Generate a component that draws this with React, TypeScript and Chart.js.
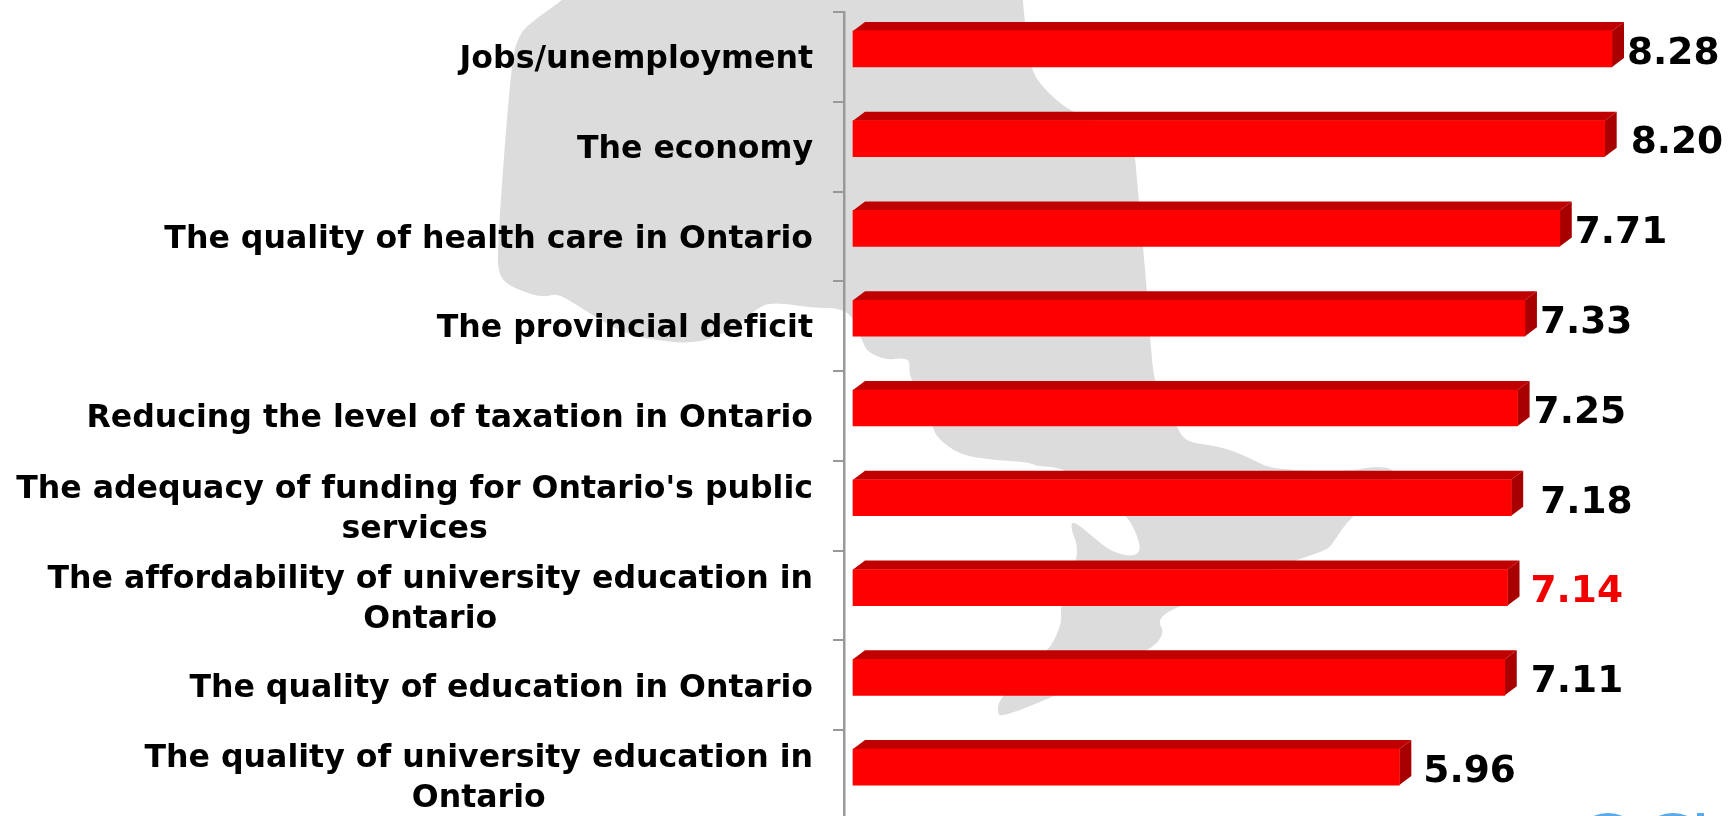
import React, { useEffect, useRef } from "react";
import { Chart, registerables } from "chart.js";

Chart.register(...registerables);

const categories: string[][] = [
  ["Jobs/unemployment"],
  ["The economy"],
  ["The quality of health care in Ontario"],
  ["The provincial deficit"],
  ["Reducing the level of taxation in Ontario"],
  ["The adequacy of funding for Ontario's public", "services"],
  ["The affordability of university education in", "Ontario"],
  ["The quality of education in Ontario"],
  ["The quality of university education in", "Ontario"],
];
const values = [8.28, 8.2, 7.71, 7.33, 7.25, 7.18, 7.14, 7.11, 5.96];
const valueLabels = ["8.28", "8.20", "7.71", "7.33", "7.25", "7.18", "7.14", "7.11", "5.96"];
const valueLabelColors = ["#000", "#000", "#000", "#000", "#000", "#000", "#f00000", "#000", "#000"];
const valueLabelGaps = [3, 14, 3, 3, 4, 17, 11, 14, 12];

const FONT = '"DejaVu Sans", Verdana, sans-serif';
const LABEL_SIZE = 31.6;
const VALUE_SIZE = 37.5;
const DEPTH_X = 12;
const DEPTH_Y = 9;
const BAR_SHIFT = -8;

// Decorative backdrop: outline of Ontario behind the bars.
const mapOutline: [number, number][] = [
  [575, -14], [1022, -14], [1023, 2], [1024, 13], [1030, 68], [1043, 88], [1070, 112], [1125, 135], [1134, 148], [1135, 157], [1139, 202],
  [1143, 247], [1147, 292], [1150, 337], [1154, 382], [1165, 405], [1177, 427], [1183, 438], [1193, 443],
  [1223, 447], [1250, 458], [1273, 470], [1353, 471], [1373, 466], [1397, 469], [1390, 490], [1350, 517],
  [1333, 543], [1327, 550], [1293, 561], [1175, 607], [1157, 620], [1165, 633], [1150, 651], [1053, 697],
  [1002, 717], [997, 713], [1000, 697], [1047, 650], [1053, 643], [1062, 622], [1060, 607], [1077, 560],
  [1077, 543], [1072, 533], [1071, 518], [1100, 543], [1113, 552], [1133, 557], [1141, 550], [1137, 535],
  [1128, 517], [1100, 490], [1065, 470], [1053, 467], [1037, 466], [1027, 462], [993, 460], [960, 455],
  [937, 438], [933, 427], [913, 382], [909, 373], [910, 360], [900, 358], [887, 360], [867, 352],
  [862, 340], [853, 317], [840, 308], [813, 308], [773, 302], [757, 308], [737, 327], [697, 345],
  [640, 338], [613, 328], [580, 307], [557, 293], [543, 298], [513, 288], [499, 277], [497, 250],
  [510, 77], [517, 35], [538, 17], [563, 0],
];

const backdrop = {
  id: "backdrop",
  beforeDraw(chart: any) {
    const { ctx } = chart;
    ctx.save();
    ctx.fillStyle = "#dcdcdc";
    ctx.beginPath();
    const n = mapOutline.length;
    const mid = (a: number[], b: number[]) => [(a[0] + b[0]) / 2, (a[1] + b[1]) / 2];
    const start = mid(mapOutline[n - 1], mapOutline[0]);
    ctx.moveTo(start[0], start[1]);
    mapOutline.forEach((p, i) => {
      const m = mid(p, mapOutline[(i + 1) % n]);
      ctx.quadraticCurveTo(p[0], p[1], m[0], m[1]);
    });
    ctx.closePath();
    ctx.fill();
    // Top of the logo peeking in at the bottom right corner.
    ctx.fillStyle = "#5aa9ea";
    ctx.beginPath();
    ctx.arc(1608, 851, 38, 0, Math.PI * 2);
    ctx.arc(1673, 851, 38, 0, Math.PI * 2);
    ctx.fill();
    ctx.fillRect(1697, 813, 7, 6);
    ctx.restore();
  },
};

const bars3d = {
  id: "bars3d",
  beforeDatasetDraw(chart: any, args: any) {
    const { ctx } = chart;
    ctx.save();
    ctx.translate(0, BAR_SHIFT);
    args.meta.data.forEach((el: any) => {
      const top = el.y - el.height / 2;
      const bottom = el.y + el.height / 2;
      ctx.fillStyle = "#c00000";
      ctx.beginPath();
      ctx.moveTo(el.base, top);
      ctx.lineTo(el.base + DEPTH_X, top - DEPTH_Y);
      ctx.lineTo(el.x + DEPTH_X, top - DEPTH_Y);
      ctx.lineTo(el.x, top);
      ctx.closePath();
      ctx.fill();
      ctx.fillStyle = "#a80000";
      ctx.beginPath();
      ctx.moveTo(el.x, top);
      ctx.lineTo(el.x + DEPTH_X, top - DEPTH_Y);
      ctx.lineTo(el.x + DEPTH_X, bottom - DEPTH_Y);
      ctx.lineTo(el.x, bottom);
      ctx.closePath();
      ctx.fill();
    });
  },
  afterDatasetDraw(chart: any) {
    chart.ctx.restore();
  },
};

const texts = {
  id: "texts",
  afterDatasetsDraw(chart: any) {
    const { ctx } = chart;
    const yScale = chart.scales.y;
    ctx.save();
    ctx.textBaseline = "middle";
    ctx.fillStyle = "#000";
    (ctx as any).textRendering = "optimizeSpeed";
    ctx.font = `bold ${LABEL_SIZE}px ${FONT}`;
    ctx.textAlign = "center";
    categories.forEach((lines, i) => {
      const blockRight = chart.chartArea.left - 31;
      const cx = blockRight - ctx.measureText(lines[0]).width / 2;
      const lineH = 40;
      const y0 = yScale.getPixelForTick(i) + 3 - ((lines.length - 1) * 38.5) / 2;
      lines.forEach((l, j) => ctx.fillText(l, cx, y0 + j * lineH));
    });
    ctx.font = `bold ${VALUE_SIZE}px ${FONT}`;
    ctx.textAlign = "left";
    chart.getDatasetMeta(0).data.forEach((el: any, i: number) => {
      ctx.fillStyle = valueLabelColors[i];
      ctx.fillText(valueLabels[i], el.x + DEPTH_X + valueLabelGaps[i], el.y + BAR_SHIFT + 5);
    });
    ctx.restore();
  },
};

export default function App() {
  const ref = useRef<HTMLCanvasElement>(null);
  useEffect(() => {
    if (!ref.current) return;
    const chart = new Chart(ref.current, {
      type: "bar",
      data: {
        labels: categories as any,
        datasets: [
          {
            data: values,
            backgroundColor: "#ff0000",
            borderWidth: 0,
            barThickness: 36,
            clip: false as any,
          },
        ],
      },
      options: {
        indexAxis: "y",
        animation: false,
        responsive: false,
        layout: { padding: { top: 12, bottom: 10, left: 0, right: 0 } },
        plugins: { legend: { display: false }, tooltip: { enabled: false } },
        scales: {
          x: { display: false, min: -0.098, max: 9.567 },
          y: {
            afterFit: (s: any) => {
              s.width = 844;
            },
            ticks: { display: false },
            grid: {
              offset: true,
              drawOnChartArea: false,
              drawTicks: true,
              tickLength: 11,
              color: "#999999",
              lineWidth: 2,
            },
            border: { display: true, color: "#999999", width: 2.5 },
          },
        },
      },
      plugins: [backdrop, bars3d, texts],
    } as any);
    return () => chart.destroy();
  }, []);
  return (
    <div style={{ position: "fixed", left: 0, top: 0, width: 1730, height: 816, overflow: "hidden", background: "#fff" }}>
      <canvas ref={ref} width={1730} height={830} style={{ display: "block" }} />
    </div>
  );
}
